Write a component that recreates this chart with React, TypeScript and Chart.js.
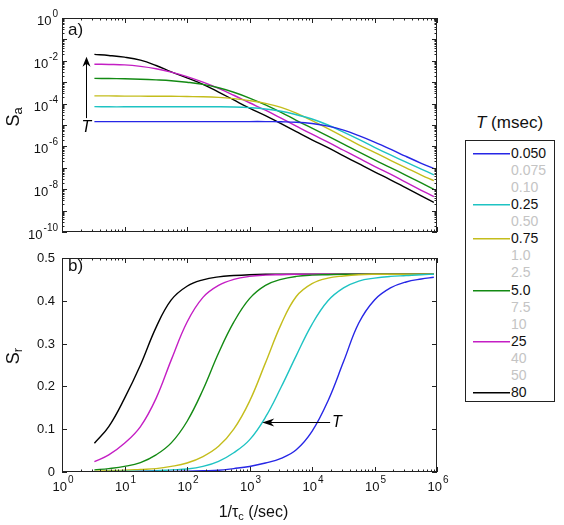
import React, { useEffect, useRef } from "react";
import { Chart, registerables } from "chart.js";

Chart.register(...registerables);

// ---------- data ----------
// 1/tau_c grid (per second) at which values were read from the picture
const xGrid = [3.3, 5.6, 10, 18, 32, 56, 100, 180, 320, 560, 1000, 1800, 3200, 5600, 10000, 18000, 32000, 56000, 100000, 180000, 320000, 560000, 890000];

// Series (T in msec) drawn in the figure
const seriesLabels = ["0.050", "0.25", "0.75", "5.0", "25", "80"];
const seriesColors = ["#2626e6", "#1ec3c3", "#c4bd1c", "#138a13", "#c41ec4", "#000000"];

// panel a) : log10(S_a)
const saLog10_0050 = [-4.84, -4.84, -4.84, -4.84, -4.84, -4.84, -4.84, -4.84, -4.84, -4.84, -4.84, -4.84, -4.85, -4.87, -4.93, -5.05, -5.24, -5.5, -5.8, -6.13, -6.47, -6.79, -7.04];
const saLog10_025 = [-4.14, -4.15, -4.15, -4.15, -4.15, -4.15, -4.15, -4.15, -4.15, -4.16, -4.19, -4.25, -4.36, -4.52, -4.72, -5.0, -5.33, -5.67, -6.04, -6.4, -6.74, -7.06, -7.33];
const saLog10_075 = [-3.64, -3.64, -3.65, -3.65, -3.66, -3.66, -3.67, -3.68, -3.71, -3.77, -3.86, -3.99, -4.18, -4.45, -4.8, -5.17, -5.55, -5.93, -6.28, -6.65, -7.0, -7.34, -7.6];
const saLog10_50 = [-2.82, -2.83, -2.84, -2.86, -2.89, -2.93, -3.0, -3.1, -3.26, -3.47, -3.74, -4.06, -4.41, -4.78, -5.15, -5.52, -5.89, -6.26, -6.63, -6.99, -7.35, -7.71, -8.01];
const saLog10_25 = [-2.16, -2.17, -2.19, -2.26, -2.37, -2.53, -2.74, -3.0, -3.29, -3.61, -3.96, -4.31, -4.68, -5.05, -5.43, -5.8, -6.18, -6.55, -6.93, -7.3, -7.68, -8.05, -8.35];
const saLog10_80 = [-1.7, -1.75, -1.83, -1.97, -2.22, -2.52, -2.8, -3.1, -3.46, -3.83, -4.21, -4.56, -4.94, -5.31, -5.69, -6.06, -6.44, -6.81, -7.19, -7.56, -7.94, -8.31, -8.61];

// panel b) : S_r
const sr_0050 = [0, 0, 0, 0.001, 0.001, 0.001, 0.002, 0.003, 0.004, 0.008, 0.013, 0.021, 0.032, 0.052, 0.095, 0.166, 0.258, 0.348, 0.402, 0.43, 0.444, 0.451, 0.455];
const sr_025 = [0.001, 0.001, 0.002, 0.002, 0.003, 0.005, 0.007, 0.013, 0.025, 0.045, 0.075, 0.128, 0.198, 0.272, 0.345, 0.4, 0.43, 0.446, 0.453, 0.457, 0.459, 0.461, 0.462];
const sr_075 = [0.002, 0.003, 0.004, 0.006, 0.008, 0.013, 0.021, 0.036, 0.06, 0.1, 0.165, 0.255, 0.345, 0.41, 0.44, 0.453, 0.458, 0.461, 0.462, 0.462, 0.462, 0.462, 0.462];
const sr_50 = [0.005, 0.008, 0.013, 0.022, 0.04, 0.068, 0.118, 0.192, 0.278, 0.35, 0.405, 0.436, 0.45, 0.457, 0.46, 0.461, 0.462, 0.462, 0.462, 0.462, 0.462, 0.462, 0.462];
const sr_25 = [0.024, 0.04, 0.067, 0.106, 0.172, 0.262, 0.35, 0.408, 0.436, 0.45, 0.457, 0.46, 0.461, 0.462, 0.462, 0.462, 0.462, 0.462, 0.462, 0.462, 0.462, 0.462, 0.462];
const sr_80 = [0.067, 0.106, 0.172, 0.25, 0.338, 0.402, 0.434, 0.449, 0.456, 0.459, 0.461, 0.462, 0.462, 0.462, 0.462, 0.462, 0.462, 0.462, 0.462, 0.462, 0.462, 0.462, 0.462];

const saSeries = [saLog10_0050, saLog10_025, saLog10_075, saLog10_50, saLog10_25, saLog10_80];
const srSeries = [sr_0050, sr_025, sr_075, sr_50, sr_25, sr_80];

// legend entries (grey ones are not drawn)
const legendLabels = ["0.050", "0.075", "0.10", "0.25", "0.50", "0.75", "1.0", "2.5", "5.0", "7.5", "10", "25", "40", "50", "80"];

// ticks
const xTickExps = [0, 1, 2, 3, 4, 5, 6];
const saTickExps = [0, -2, -4, -6, -8, -10];
const srTicks = [0, 0.1, 0.2, 0.3, 0.4, 0.5];

// annotation arrows (data units)
const arrowA = { x: 2.4, yFrom: 2.1e-5, yTo: 1.55e-2, labelY: 7.6e-6 };
const arrowB = { xFrom: 19500, xTo: 1600, y: 0.1175, labelX: 25000 };

// ---------- drawing helpers ----------
const FONT = '"Liberation Sans", Arial, Helvetica, sans-serif';
const INK = "#222222";

function drawPow10(ctx: CanvasRenderingContext2D, exp: number, x: number, baseline: number, align: "right" | "center") {
  ctx.font = `13px ${FONT}`;
  const wb = ctx.measureText("10").width;
  ctx.font = `10px ${FONT}`;
  const es = String(exp);
  const we = ctx.measureText(es).width;
  const total = wb + 1 + we;
  const x0 = align === "right" ? x - total : x - total / 2;
  ctx.textAlign = "left";
  ctx.textBaseline = "alphabetic";
  ctx.font = `13px ${FONT}`;
  ctx.fillText("10", x0, baseline);
  ctx.font = `10px ${FONT}`;
  ctx.fillText(es, x0 + wb + 1, baseline - 8);
}

function drawSubText(ctx: CanvasRenderingContext2D, main: string, sub: string, tail: string, size: number, subSize: number, cx: number, baseline: number) {
  ctx.font = `${size}px ${FONT}`;
  const w1 = ctx.measureText(main).width;
  const w3 = ctx.measureText(tail).width;
  ctx.font = `${subSize}px ${FONT}`;
  const w2 = ctx.measureText(sub).width;
  const total = w1 + w2 + w3;
  let x = cx - total / 2;
  ctx.textAlign = "left";
  ctx.textBaseline = "alphabetic";
  ctx.font = `${size}px ${FONT}`;
  ctx.fillText(main, x, baseline);
  x += w1;
  ctx.font = `${subSize}px ${FONT}`;
  ctx.fillText(sub, x, baseline + 3);
  x += w2;
  ctx.font = `${size}px ${FONT}`;
  ctx.fillText(tail, x, baseline);
}

function arrowHead(ctx: CanvasRenderingContext2D, tipX: number, tipY: number, dirX: number, dirY: number, len: number, half: number) {
  const nx = -dirY, ny = dirX;
  const bx = tipX - dirX * len, by = tipY - dirY * len;
  const mx = tipX - dirX * len * 0.7, my = tipY - dirY * len * 0.7;
  ctx.beginPath();
  ctx.moveTo(tipX, tipY);
  ctx.lineTo(bx + nx * half, by + ny * half);
  ctx.lineTo(mx, my);
  ctx.lineTo(bx - nx * half, by - ny * half);
  ctx.closePath();
  ctx.fill();
}

function makeAxesPlugin(panel: "a" | "b") {
  return {
    id: "axes_" + panel,
    afterDatasetsDraw(chart: any) {
      const ctx: CanvasRenderingContext2D = chart.ctx;
      const { left, right, top, bottom } = chart.chartArea;
      const xs = chart.scales.x;
      const ys = chart.scales.y;
      ctx.save();
      ctx.strokeStyle = INK;
      ctx.fillStyle = INK;
      ctx.lineWidth = 1;

      // frame
      ctx.strokeRect(Math.round(left) + 0.5, Math.round(top) + 0.5, Math.round(right - left) - 1, Math.round(bottom - top) - 1);

      // x ticks (log) on bottom and top
      ctx.beginPath();
      const xt = (v: number, len: number) => {
        const X = Math.round(xs.getPixelForValue(v)) + 0.5;
        ctx.moveTo(X, bottom);
        ctx.lineTo(X, bottom - len);
        ctx.moveTo(X, top);
        ctx.lineTo(X, top + len);
      };
      for (let i = 0; i < xTickExps.length; i++) {
        const k = xTickExps[i];
        xt(Math.pow(10, k), 5);
        if (i < xTickExps.length - 1) for (let m = 2; m <= 9; m++) xt(m * Math.pow(10, k), 2.5);
      }
      // y ticks on left and right
      const yt = (v: number, len: number) => {
        const Y = Math.round(ys.getPixelForValue(v)) + 0.5;
        ctx.moveTo(left, Y);
        ctx.lineTo(left + len, Y);
        ctx.moveTo(right, Y);
        ctx.lineTo(right - len, Y);
      };
      if (panel === "a") {
        const lo = saTickExps[saTickExps.length - 1];
        const hi = saTickExps[0];
        for (let e = lo; e <= hi; e++) {
          yt(Math.pow(10, e), 5);
          if (e < hi) for (let m = 2; m <= 9; m++) yt(m * Math.pow(10, e), 2.5);
        }
      } else {
        srTicks.forEach((v) => yt(v, 5));
      }
      ctx.stroke();

      ctx.fillStyle = "#111";
      if (panel === "a") {
        saTickExps.forEach((e) => {
          const Y = ys.getPixelForValue(Math.pow(10, e));
          drawPow10(ctx, e, 58, Y + 7, "right");
        });
        ctx.font = `17px ${FONT}`;
        ctx.textAlign = "left";
        ctx.textBaseline = "alphabetic";
        ctx.fillText("a)", left + 6, top + 17);
        ctx.save();
        ctx.translate(19, 117);
        ctx.rotate(-Math.PI / 2);
        drawSubText(ctx, "S", "a", "", 18, 13, 0, 0);
        ctx.restore();
        const ax = Math.round(xs.getPixelForValue(arrowA.x)) + 0.5;
        const y0 = ys.getPixelForValue(arrowA.yFrom);
        const y1 = ys.getPixelForValue(arrowA.yTo);
        ctx.strokeStyle = "#000";
        ctx.fillStyle = "#000";
        ctx.beginPath();
        ctx.moveTo(ax, y0);
        ctx.lineTo(ax, y1 + 6);
        ctx.stroke();
        arrowHead(ctx, ax, y1, 0, -1, 10, 4);
        ctx.font = `italic 16px ${FONT}`;
        ctx.textAlign = "center";
        ctx.textBaseline = "middle";
        ctx.fillText("T", ax, ys.getPixelForValue(arrowA.labelY));
      } else {
        xTickExps.forEach((k) => {
          const X = xs.getPixelForValue(Math.pow(10, k));
          drawPow10(ctx, k, X + 1, bottom + 19, "center");
        });
        ctx.font = `13px ${FONT}`;
        ctx.textAlign = "right";
        ctx.textBaseline = "middle";
        srTicks.forEach((v) => {
          const Y = ys.getPixelForValue(v);
          ctx.fillText(v === 0 ? "0" : v.toFixed(1), 55, Y + 0.5);
        });
        ctx.font = `17px ${FONT}`;
        ctx.textAlign = "left";
        ctx.textBaseline = "alphabetic";
        ctx.fillText("b)", left + 6, top + 13);
        ctx.save();
        ctx.translate(19, 111);
        ctx.rotate(-Math.PI / 2);
        drawSubText(ctx, "S", "r", "", 18, 13, 0, 0);
        ctx.restore();
        drawSubText(ctx, "1/\u03C4", "c", " (/sec)", 16, 11, (left + right) / 2 + 4, 272);
        const ay = Math.round(ys.getPixelForValue(arrowB.y)) + 0.5;
        const x0 = xs.getPixelForValue(arrowB.xFrom);
        const x1 = xs.getPixelForValue(arrowB.xTo);
        ctx.strokeStyle = "#000";
        ctx.fillStyle = "#000";
        ctx.beginPath();
        ctx.moveTo(x0, ay);
        ctx.lineTo(x1 + 8, ay);
        ctx.stroke();
        arrowHead(ctx, x1, ay, -1, 0, 12, 4);
        ctx.font = `italic 16px ${FONT}`;
        ctx.textAlign = "center";
        ctx.textBaseline = "middle";
        ctx.fillText("T", xs.getPixelForValue(arrowB.labelX), ay);
      }
      ctx.restore();
    },
  };
}

function baseScale(type: string, min: number, max: number, fit: (s: any) => void) {
  return {
    type,
    min,
    max,
    ticks: { display: false },
    grid: { display: false },
    border: { display: false },
    title: { display: false },
    afterFit: fit,
  };
}

export default function App() {
  const topRef = useRef<HTMLCanvasElement>(null);
  const botRef = useRef<HTMLCanvasElement>(null);

  useEffect(() => {
    const mk = (s: number[], i: number, log: boolean) => ({
      label: seriesLabels[i],
      data: xGrid.map((x, j) => ({ x, y: log ? Math.pow(10, s[j]) : s[j] })),
      borderColor: seriesColors[i],
      borderWidth: 1.4,
      pointRadius: 0,
      fill: false,
      tension: 0.4,
    });
    const topData = { datasets: saSeries.map((s, i) => mk(s, i, true)) };
    const botData = { datasets: srSeries.map((s, i) => mk(s, i, false)) };
    const common = {
      responsive: false,
      maintainAspectRatio: false,
      animation: false,
      events: [],
      plugins: { legend: { display: false }, tooltip: { enabled: false }, title: { display: false } },
    };
    const c1 = new Chart(topRef.current as HTMLCanvasElement, {
      type: "line",
      data: topData as any,
      options: {
        ...common,
        layout: { padding: { left: 0, top: 18, right: 13, bottom: 0 } },
        scales: {
          x: baseScale("logarithmic", 1, 1e6, (s: any) => { s.height = 18; }),
          y: baseScale("logarithmic", 1e-10, 1, (s: any) => { s.width = 62; }),
        },
      } as any,
      plugins: [makeAxesPlugin("a")],
    });
    const c2 = new Chart(botRef.current as HTMLCanvasElement, {
      type: "line",
      data: botData as any,
      options: {
        ...common,
        layout: { padding: { left: 0, top: 13, right: 13, bottom: 0 } },
        scales: {
          x: baseScale("logarithmic", 1, 1e6, (s: any) => { s.height = 53; }),
          y: baseScale("linear", 0, 0.5, (s: any) => { s.width = 62; }),
        },
      } as any,
      plugins: [makeAxesPlugin("b")],
    });
    return () => {
      c1.destroy();
      c2.destroy();
    };
  }, []);

  return (
    <div style={{ position: "absolute", left: 0, top: 0, width: 564, height: 525, background: "#fff", overflow: "hidden", fontFamily: FONT }}>
      <canvas ref={topRef} width={450} height={250} style={{ position: "absolute", left: 0, top: 0, width: 450, height: 250 }} />
      <canvas ref={botRef} width={450} height={280} style={{ position: "absolute", left: 0, top: 245, width: 450, height: 280 }} />
      <div style={{ position: "absolute", left: 476, top: 114, fontSize: 17, lineHeight: "17px", whiteSpace: "nowrap", color: "#111" }}>
        <span style={{ fontStyle: "italic" }}>T</span> (msec)
      </div>
      <div style={{ position: "absolute", left: 465, top: 140, width: 90, height: 262, border: "1px solid #222", boxSizing: "border-box" }}>
        {legendLabels.map((lab, i) => {
          const si = seriesLabels.indexOf(lab);
          const drawn = si >= 0;
          return (
            <div key={lab} style={{ position: "absolute", left: 0, top: Math.round(3.7 + 17.1 * i), width: 88, height: 16 }}>
              {drawn && (
                <div style={{ position: "absolute", left: 7, top: 8, width: 37, height: 1, background: seriesColors[si], boxShadow: `0 0.5px 0 ${seriesColors[si]}` }} />
              )}
              <div style={{ position: "absolute", left: 45, top: 0, fontSize: 14, lineHeight: "16px", color: drawn ? "#111" : "#c4c4c4", whiteSpace: "nowrap" }}>
                {lab}
              </div>
            </div>
          );
        })}
      </div>
    </div>
  );
}
